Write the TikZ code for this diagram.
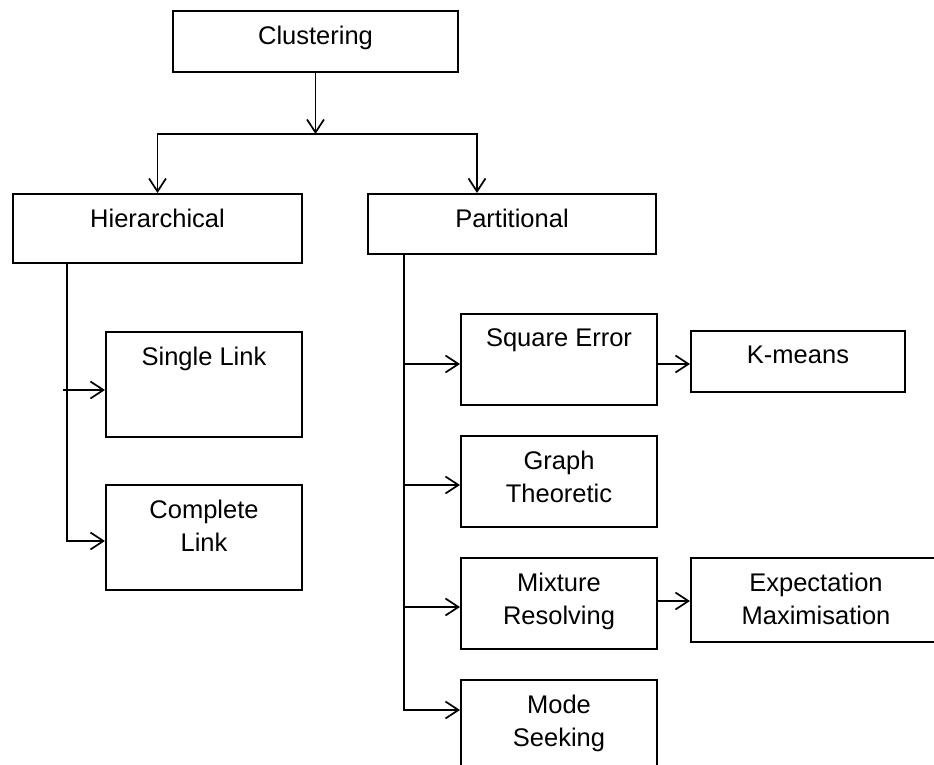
\documentclass[tikz,border=0pt]{standalone}
\usepackage{fontspec}
\setmainfont{Liberation Sans}
\usetikzlibrary{arrows.meta,calc}
\begin{document}
\begin{tikzpicture}[x=1pt,y=-1pt,
  box/.style={draw, line width=2pt, rectangle, inner sep=0pt, anchor=north west},
  lbl/.style={anchor=north, yshift=-15.5pt, inner sep=0pt, align=center,
    font=\fontsize{25.5}{33}\selectfont},
  conn/.style={line width=1.7pt, -{Straight Barb[length=13pt,width=17pt,line width=1.7pt]}}
]
\useasboundingbox (0,0) rectangle (934,765);
\clip (0,0) rectangle (934,765);

% root and the two main families
\node[box, minimum width=285pt, minimum height=61pt, label={[lbl]north:Clustering}] (cl) at (172,10) {};
\node[box, minimum width=289pt, minimum height=69pt, label={[lbl]north:Hierarchical}] (hier) at (12,193) {};
\node[box, minimum width=288pt, minimum height=60pt, label={[lbl]north:Partitional}] (part) at (367,193) {};

% hierarchical methods
\node[box, minimum width=196pt, minimum height=105pt, label={[lbl]north:Single Link}] (sl) at (105,331) {};
\node[box, minimum width=196pt, minimum height=105pt, label={[lbl]north:{Complete\\Link}}] (cpl) at (105,484) {};

% partitional methods
\node[box, minimum width=196pt, minimum height=91pt, label={[lbl]north:Square Error}] (sq) at (460,313) {};
\node[box, minimum width=214pt, minimum height=61pt, label={[lbl]north:K-means}] (km) at (690,330) {};
\node[box, minimum width=196pt, minimum height=91pt, label={[lbl]north:{Graph\\Theoretic}}] (gt) at (460,435) {};
\node[box, minimum width=196pt, minimum height=91pt, label={[lbl]north:{Mixture\\Resolving}}] (mr) at (460,557) {};
\node[box, minimum width=250pt, minimum height=84pt, label={[lbl]north:{Expectation\\Maximisation}}] (em) at (690,557) {};
\node[box, minimum width=196pt, minimum height=95pt, label={[lbl]north:{Mode\\Seeking}}] (ms) at (460,679) {};

% split below the root
\coordinate (jn) at ($(cl.south)+(0,61)$);
\coordinate (pin) at ($(part.north west)+(110,0)$);
\draw[conn] (cl.south) -- (jn);
\draw[conn] (jn) -| (hier.north);
\draw[conn] (jn) -| (pin);

% hierarchical branch
\coordinate (hs) at ($(hier.south west)+(55,-2)$);
\draw[conn] (hs) |- ($(cpl.west)+(0,3.5)$);
\draw[conn] ($(sl.west)+(-42,5.5)$) -- ($(sl.west)+(0,5.5)$);

% partitional branch
\coordinate (ps) at ($(part.south west)+(37,0)$);
\draw[conn] (ps) |- ($(ms.north west)+(0,31)$);
\draw[conn] ($(sq.west)+(-56,4.5)$) -- ($(sq.west)+(0,4.5)$);
\draw[conn] ($(gt.west)+(-56,3.5)$) -- ($(gt.west)+(0,3.5)$);
\draw[conn] ($(mr.west)+(-56,3.5)$) -- ($(mr.west)+(0,3.5)$);
\draw[conn] ($(sq.east)+(0,4.5)$) -- ($(km.west)+(0,2.5)$);
\draw[conn] ($(mr.east)+(0,-2.5)$) -- ($(em.west)+(0,1)$);
\end{tikzpicture}
\end{document}
